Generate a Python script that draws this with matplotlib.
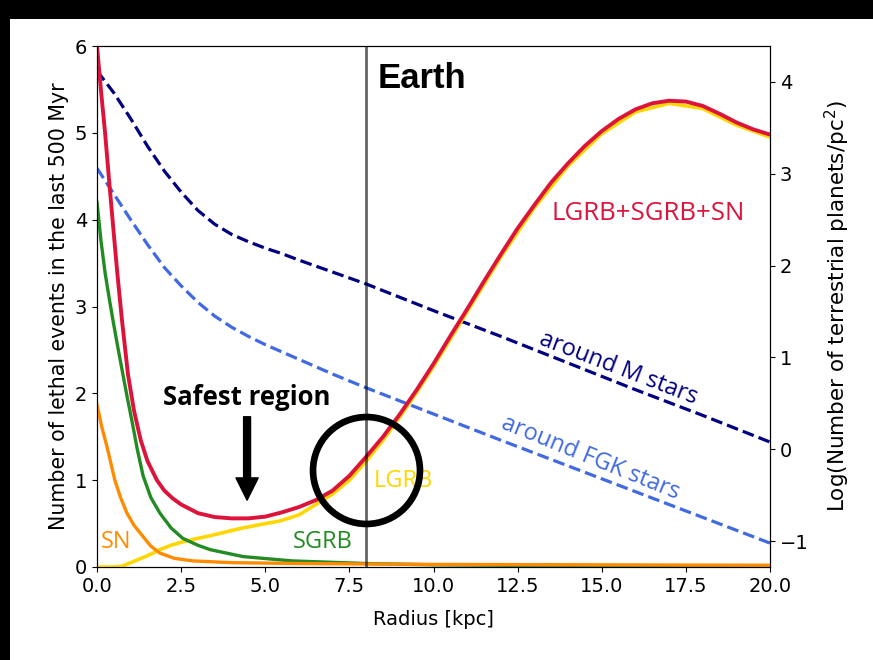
import matplotlib
matplotlib.use("Agg")
import matplotlib.pyplot as plt
from matplotlib.patches import Rectangle

# lethal events (left axis)
total_x = [0.0, 0.12, 0.24, 0.36, 0.48, 0.6, 0.74, 0.92, 1.1, 1.3, 1.5, 1.78, 2.0, 2.25, 2.5,
           3.0, 3.5, 4.0, 4.5, 5.0, 5.5, 6.0, 6.5, 7.0, 7.5, 8.0, 8.5, 9.0, 9.5, 10.0, 10.5,
           11.0, 11.5, 12.0, 12.5, 13.0, 13.5, 14.0, 14.5, 15.0, 15.5, 16.0, 16.5, 17.0,
           17.5, 18.0, 18.5, 19.0, 19.5, 20.0]
total_y = [6.0, 5.48, 5.0, 4.45, 3.92, 3.4, 2.85, 2.22, 1.8, 1.46, 1.22, 1.0, 0.88, 0.79, 0.72,
           0.62, 0.575, 0.56, 0.56, 0.58, 0.63, 0.69, 0.77, 0.88, 1.05, 1.27, 1.5, 1.76, 2.04,
           2.34, 2.66, 2.97, 3.29, 3.6, 3.9, 4.17, 4.43, 4.65, 4.85, 5.02, 5.16, 5.27, 5.34,
           5.37, 5.36, 5.31, 5.22, 5.12, 5.04, 4.98]

lgrb_x = [0.0, 0.5, 0.75, 1.0, 1.5, 1.87, 2.2, 2.55, 3.0, 3.36, 4.0, 4.34, 5.0, 5.44, 6.0,
          6.42, 7.0, 7.5, 8.0, 8.5, 9.0, 9.5, 10.0, 11.0, 12.0, 13.0, 14.0, 15.0, 16.0,
          17.0, 18.0, 19.0, 20.0]
lgrb_y = [0.0, 0.0, 0.01, 0.05, 0.13, 0.2, 0.25, 0.29, 0.33, 0.36, 0.42, 0.45, 0.5, 0.53, 0.6,
          0.7, 0.84, 1.0, 1.22, 1.46, 1.73, 2.01, 2.31, 2.94, 3.57, 4.14, 4.62, 4.99, 5.24,
          5.34, 5.28, 5.09, 4.95]

sgrb_x = [0.0, 0.12, 0.24, 0.36, 0.48, 0.6, 0.74, 0.9, 1.04, 1.2, 1.37, 1.6, 1.87, 2.2, 2.55,
          3.0, 3.36, 4.34, 5.8, 8.0, 10.0, 14.0, 20.0]
sgrb_y = [4.2, 3.75, 3.39, 3.1, 2.83, 2.57, 2.28, 1.95, 1.68, 1.35, 1.05, 0.8, 0.62, 0.45, 0.33,
          0.25, 0.2, 0.12, 0.07, 0.04, 0.025, 0.015, 0.01]

sn_x = [0.0, 0.15, 0.3, 0.53, 0.7, 0.89, 1.1, 1.37, 1.6, 1.87, 2.3, 2.85, 4.0, 6.0, 10.0, 20.0]
sn_y = [1.87, 1.6, 1.38, 1.0, 0.8, 0.62, 0.48, 0.35, 0.24, 0.16, 0.1, 0.07, 0.05, 0.04, 0.03, 0.02]

# log number of terrestrial planets (right axis)
mstar_x = [0.0, 0.5, 1.0, 1.5, 2.0, 2.5, 3.0, 3.5, 4.0, 4.5, 5.0, 5.5, 6.0, 7.0, 8.0,
           10.0, 12.0, 14.0, 16.0, 18.0, 20.0]
mstar_y = [4.12, 3.88, 3.6, 3.3, 3.03, 2.8, 2.6, 2.45, 2.34, 2.26, 2.19, 2.13, 2.06, 1.93, 1.8,
           1.51, 1.23, 0.94, 0.65, 0.37, 0.08]

fgk_x = [0.0, 0.5, 1.0, 1.5, 2.0, 2.5, 3.0, 3.5, 4.0, 4.5, 5.0, 6.0, 7.0, 8.0,
         10.0, 12.0, 14.0, 16.0, 18.0, 20.0]
fgk_y = [3.06, 2.78, 2.5, 2.23, 1.98, 1.78, 1.6, 1.45, 1.33, 1.23, 1.14, 0.98, 0.82, 0.67,
         0.385, 0.1, -0.18, -0.46, -0.74, -1.02]

earth_r = 8.0

fig = plt.figure(figsize=(8.73, 6.6), dpi=100, facecolor='white')
# black frame strips on the top and left, as in the screenshot
fig.add_artist(Rectangle((0, 1 - 19 / 660), 1, 19 / 660, transform=fig.transFigure,
                         facecolor='black', edgecolor='none'))
fig.add_artist(Rectangle((0, 0), 10 / 873, 1, transform=fig.transFigure,
                         facecolor='black', edgecolor='none'))

ax = fig.add_axes([97 / 873, 93 / 660, 673 / 873, 521 / 660])
ax2 = ax.twinx()
ax.set_zorder(ax2.get_zorder() + 1)
ax.patch.set_visible(False)
ax2.set_facecolor('white')

ax2.plot(mstar_x, mstar_y, '--', color='navy', lw=2.3)
ax2.plot(fgk_x, fgk_y, '--', color='royalblue', lw=2.3)
ax2.set_ylim(-1.28, 4.39)
ax2.set_yticks([-1, 0, 1, 2, 3, 4])
ax2.set_ylabel('Log(Number of terrestrial planets/pc$^2$)', fontsize=15.5, labelpad=10)
ax2.tick_params(labelsize=14)

ax.plot(lgrb_x, lgrb_y, color='gold', lw=2.6)
ax.plot(sgrb_x, sgrb_y, color='forestgreen', lw=2.4)
ax.plot(sn_x, sn_y, color='darkorange', lw=2.4)
ax.plot(total_x, total_y, color='crimson', lw=2.8)

ax.axvline(earth_r, color='black', alpha=0.6, lw=2)
ax.plot([earth_r], [1.12], 'o', ms=77, mfc='none', mec='black', mew=4.8, zorder=5)

ax.set_xlim(0, 20)
ax.set_ylim(0, 6)
ax.set_xlabel('Radius [kpc]', fontsize=14, labelpad=10)
ax.set_ylabel('Number of lethal events in the last 500 Myr', fontsize=14.8)
ax.tick_params(labelsize=14)

lab = dict(family='Open Sans', fontsize=17)
ax.text(13.52, 4.0, 'LGRB+SGRB+SN', color='crimson', family='Open Sans', fontsize=18.5)
ax.text(0.12, 0.22, 'SN', color='darkorange', **lab)
ax.text(5.82, 0.22, 'SGRB', color='forestgreen', **lab)
ax.text(8.23, 0.92, 'LGRB', color='gold', **lab)
ax.text(15.5, 2.29, 'around M stars', color='navy', rotation=-21,
        rotation_mode='anchor', ha='center', va='center', **lab)
ax.text(14.65, 1.26, 'around FGK stars', color='royalblue', rotation=-22,
        rotation_mode='anchor', ha='center', va='center', **lab)

ax.text(8.35, 5.52, 'Earth', family='Liberation Sans', fontweight='bold', fontsize=25)
ax.text(4.46, 1.87, 'Safest region', family='Open Sans', fontweight='bold', fontsize=18.5,
        ha='center')
ax.annotate('', xy=(4.46, 0.77), xytext=(4.46, 1.73),
            arrowprops=dict(facecolor='black', edgecolor='black', width=5,
                            headwidth=16, headlength=16, shrink=0))

fig.savefig('out.png', dpi=100, facecolor=fig.get_facecolor())
